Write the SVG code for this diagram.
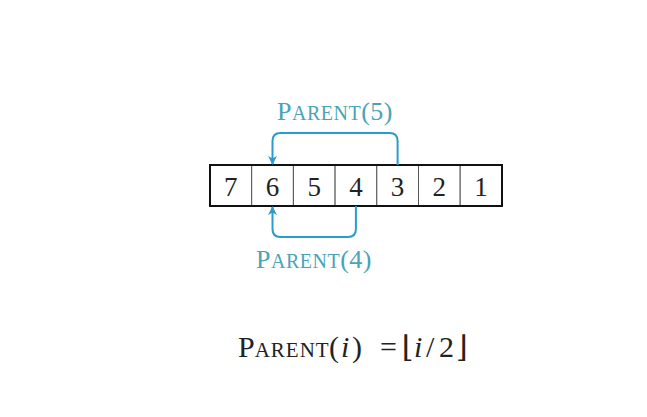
<svg xmlns="http://www.w3.org/2000/svg" width="647" height="417" viewBox="0 0 647 417">
<style>
.cell{fill:#fff;stroke:#555;stroke-width:1}
.outer{fill:none;stroke:#111;stroke-width:2}
.dig{font-family:"Liberation Serif",serif;font-size:27px;fill:#222;text-anchor:middle}
.lbl{font-family:"Liberation Serif",serif;fill:#4aa3b6;letter-spacing:0.5px}
.conn{fill:none;stroke:#2a9ccb;stroke-width:2}
.f{font-family:"Liberation Serif","DejaVu Serif",serif;fill:#222}
</style>
<defs>
<marker id="ah" viewBox="0 0 10 10" refX="9" refY="5" markerWidth="9" markerHeight="9" orient="auto" markerUnits="userSpaceOnUse">
<path d="M0,0 L10,5 L0,10 L3,5 Z" fill="#2a9ccb"/>
</marker>
</defs>
<rect width="647" height="417" fill="#fff"/>
<g id="array">
<rect class="cell" x="210" y="165" width="41.7" height="41"/>
<rect class="cell" x="251.7" y="165" width="41.7" height="41"/>
<rect class="cell" x="293.4" y="165" width="41.7" height="41"/>
<rect class="cell" x="335.1" y="165" width="41.7" height="41"/>
<rect class="cell" x="376.8" y="165" width="41.7" height="41"/>
<rect class="cell" x="418.5" y="165" width="41.7" height="41"/>
<rect class="cell" x="460.2" y="165" width="41.7" height="41"/>
<rect class="outer" x="210" y="165" width="292" height="41"/>
<text class="dig" x="230.8" y="195.5">7</text>
<text class="dig" x="272.5" y="195.5">6</text>
<text class="dig" x="314.2" y="195.5">5</text>
<text class="dig" x="355.9" y="195.5">4</text>
<text class="dig" x="397.6" y="195.5">3</text>
<text class="dig" x="439.3" y="195.5">2</text>
<text class="dig" x="481" y="195.5">1</text>
</g>
<g id="connectors">
<path class="conn" d="M397.6,165 V141 Q397.6,133 389.6,133 H280.5 Q272.5,133 272.5,141 V164" marker-end="url(#ah)"/>
<path class="conn" d="M355.9,206 V229 Q355.9,237 347.9,237 H280.5 Q272.5,237 272.5,229 V207" marker-end="url(#ah)"/>
</g>
<g id="label-parent5">
<text class="lbl" x="277" y="119.5"><tspan font-size="26">P</tspan><tspan font-size="20">ARENT</tspan><tspan font-size="26">(5)</tspan></text>
</g>
<g id="label-parent4">
<text class="lbl" x="256" y="268"><tspan font-size="26">P</tspan><tspan font-size="20">ARENT</tspan><tspan font-size="26">(4)</tspan></text>
</g>
<g id="formula">
<text class="f" y="357"><tspan x="238" font-size="30">P</tspan><tspan font-size="21" letter-spacing="1">ARENT</tspan><tspan x="329" font-size="30">(</tspan><tspan x="341" font-size="30" font-style="italic">i</tspan><tspan x="352" font-size="30">)</tspan><tspan x="380" font-size="30">=</tspan><tspan x="402" font-size="30">⌊</tspan><tspan x="414" font-size="30" font-style="italic">i</tspan><tspan x="426" font-size="30">/</tspan><tspan x="439" font-size="30">2</tspan><tspan x="456" font-size="30">⌋</tspan></text>
</g>
</svg>
